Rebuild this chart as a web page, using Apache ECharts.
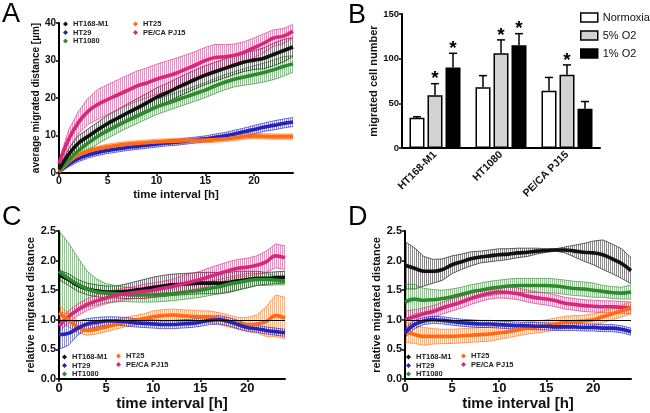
<!DOCTYPE html>
<html>
<head>
<meta charset="utf-8">
<script src="https://cdn.jsdelivr.net/npm/echarts@6/dist/echarts.min.js"></script>
<style>
  html, body { margin: 0; padding: 0; background: #fff; }
  #chart { width: 650px; height: 413px; }
</style>
</head>
<body>
<div id="chart"></div>
<script>
// time points [h]
const hours = [0,1,2,3,4,5,6,7,8,9,10,11,12,13,14,15,16,17,18,19,20,21,22,23,24];
const xTicks = [0, 5, 10, 15, 20];

// panel A: average migrated distance [µm]
const aHt168 = [1,5,8,9.8,11.6,13.2,14.6,16,17.3,18.7,20.2,21.3,22.6,23.8,25,26.1,27,27.9,28.8,29.6,30.1,30.6,31.6,32.6,33.6];
const aHt168Err = [0.5,1.5,2,2,2,2.2,2.3,2.4,2.5,2.5,2.5,2.5,2.5,2.5,2.5,2.5,2.5,2.5,2.5,2.5,2.5,2.8,3,3,2.5];
const aHt29 = [0.3,2.3,3.8,4.8,5.5,6,6.4,6.8,7.1,7.4,7.7,8,8.2,8.5,8.8,9.1,9.5,9.9,10.4,11,11.6,12.2,12.7,13.2,13.6];
const aHt29Err = [0.3,0.6,0.8,0.8,0.8,0.8,0.8,0.8,0.8,0.8,0.8,0.8,0.8,0.8,0.8,0.8,0.9,0.9,1,1,1.1,1.1,1.2,1.2,1.2];
const aHt1080 = [0.8,3.5,6,8,9.8,11.3,12.7,14,15.2,16.4,17.6,18.5,19.4,20.3,21.2,22.1,23.2,24.2,25,25.6,26.2,26.8,27.5,28.4,29.1];
const aHt1080Err = [0.5,1,1.5,1.8,2,2,2,2,2,2,2,2,2,2,2,2,2,2,2,2.2,2.4,2.5,2.6,2.6,2.2];
const aHt25 = [0.3,3,4.8,5.8,6.5,7,7.4,7.7,7.9,8.1,8.3,8.4,8.5,8.6,8.7,8.8,8.9,9.1,9.4,9.7,9.9,9.8,9.7,9.7,9.7];
const aHt25Err = [0.3,0.6,0.7,0.7,0.7,0.7,0.7,0.7,0.7,0.7,0.7,0.7,0.7,0.7,0.7,0.7,0.7,0.7,0.7,0.7,0.7,0.7,0.7,0.7,0.7];
const aPj15 = [2.5,9,13.5,16.5,18.3,19.6,20.8,22,23.2,24,25,25.8,26.6,27.7,28.8,30,30.8,31,31.4,32.2,33.4,34.6,36,36.5,37.8];
const aPj15Err = [1,2.5,3,3.5,4,4,4,4,4,4,4,4,4,3.8,3.6,3.5,3.5,3.2,3,2.8,2.6,2.5,2.2,2,1.8];

// panel B: migrated cell number
const bCats = ['HT168-M1', 'HT1080', 'PE/CA PJ15'];
const bNormoxia = [34, 68, 64];
const bNormoxiaErr = [1, 13, 15];
const bO2five = [59, 106, 82];
const bO2fiveErr = [13, 15, 11];
const bO2one = [90, 115, 44];
const bO2oneErr = [16, 13, 8];
const bSigNormoxia = [0, 0, 0];
const bSigFive = [1, 1, 1];
const bSigOne = [1, 1, 0];

// panel C: relative migrated distance
const cHt168 = [1.76,1.68,1.58,1.52,1.49,1.47,1.47,1.48,1.5,1.52,1.55,1.57,1.59,1.6,1.61,1.62,1.62,1.62,1.63,1.66,1.68,1.7,1.7,1.71,1.72];
const cHt168Err = [0.08,0.1,0.1,0.1,0.1,0.1,0.1,0.12,0.14,0.16,0.17,0.18,0.18,0.18,0.18,0.18,0.18,0.18,0.17,0.16,0.14,0.12,0.1,0.1,0.1];
const cHt29 = [0.75,0.77,0.86,0.93,0.96,0.98,0.98,0.97,0.95,0.94,0.93,0.92,0.92,0.93,0.94,0.96,0.99,1,0.97,0.92,0.87,0.85,0.82,0.8,0.78];
const cHt29Err = [0.25,0.2,0.12,0.09,0.08,0.07,0.07,0.07,0.07,0.07,0.07,0.07,0.07,0.07,0.07,0.07,0.07,0.07,0.07,0.07,0.06,0.06,0.06,0.06,0.06];
const cHt1080 = [1.82,1.7,1.6,1.52,1.47,1.45,1.44,1.43,1.42,1.42,1.42,1.43,1.44,1.46,1.48,1.5,1.53,1.56,1.6,1.63,1.66,1.68,1.68,1.67,1.65];
const cHt1080Err = [0.68,0.6,0.45,0.3,0.22,0.16,0.14,0.12,0.12,0.12,0.12,0.12,0.12,0.12,0.12,0.12,0.12,0.12,0.12,0.12,0.12,0.1,0.1,0.08,0.06];
const cHt25 = [1.12,1,0.88,0.82,0.84,0.88,0.92,0.96,0.99,1.02,1.05,1.07,1.08,1.07,1.06,1.05,1.05,1.02,0.98,0.94,0.92,0.93,0.97,1.07,1.03];
const cHt25Err = [0.12,0.12,0.1,0.08,0.08,0.08,0.08,0.08,0.08,0.08,0.1,0.1,0.1,0.1,0.1,0.1,0.1,0.1,0.1,0.1,0.12,0.15,0.25,0.35,0.35];
const cPj15 = [0.9,1.05,1.17,1.26,1.32,1.37,1.41,1.44,1.46,1.48,1.5,1.53,1.56,1.6,1.64,1.68,1.73,1.78,1.83,1.87,1.89,1.92,1.98,2.08,2.05];
const cPj15Err = [0.1,0.1,0.1,0.1,0.1,0.1,0.1,0.1,0.1,0.12,0.12,0.12,0.12,0.14,0.14,0.14,0.15,0.15,0.15,0.15,0.15,0.16,0.18,0.2,0.2];

// panel D: relative migrated distance
const dHt168 = [1.92,1.87,1.82,1.82,1.85,1.93,1.98,2.03,2.06,2.08,2.1,2.11,2.13,2.14,2.16,2.17,2.18,2.18,2.16,2.14,2.13,2.1,2.03,1.95,1.83];
const dHt168Err = [0.4,0.35,0.25,0.2,0.18,0.15,0.13,0.12,0.1,0.1,0.1,0.09,0.08,0.07,0.05,0.03,0.02,0.05,0.1,0.15,0.2,0.25,0.25,0.25,0.22];
const dHt29 = [0.78,0.92,0.98,1,0.99,0.97,0.95,0.94,0.93,0.93,0.92,0.91,0.9,0.9,0.89,0.89,0.88,0.88,0.88,0.87,0.87,0.86,0.86,0.84,0.8];
const dHt29Err = [0.08,0.07,0.06,0.06,0.06,0.06,0.06,0.06,0.06,0.06,0.06,0.06,0.06,0.06,0.06,0.06,0.06,0.06,0.06,0.06,0.06,0.06,0.06,0.06,0.06];
const dHt1080 = [1.3,1.35,1.33,1.34,1.36,1.39,1.43,1.47,1.5,1.53,1.55,1.57,1.58,1.58,1.58,1.58,1.57,1.55,1.53,1.52,1.5,1.48,1.46,1.45,1.47];
const dHt1080Err = [0.3,0.25,0.2,0.17,0.14,0.13,0.12,0.12,0.12,0.12,0.12,0.12,0.12,0.12,0.12,0.12,0.12,0.12,0.12,0.12,0.12,0.1,0.1,0.1,0.12];
const dHt25 = [0.8,0.75,0.72,0.72,0.72,0.72,0.73,0.74,0.75,0.76,0.78,0.8,0.83,0.86,0.88,0.9,0.93,0.96,0.97,0.98,1,1.05,1.1,1.15,1.2];
const dHt25Err = [0.18,0.15,0.15,0.13,0.12,0.12,0.12,0.12,0.12,0.12,0.11,0.1,0.1,0.1,0.1,0.1,0.1,0.1,0.1,0.1,0.1,0.1,0.1,0.1,0.1];
const dPj15 = [1,1.05,1.1,1.14,1.2,1.25,1.3,1.36,1.41,1.45,1.47,1.46,1.44,1.4,1.37,1.35,1.32,1.28,1.26,1.24,1.23,1.22,1.22,1.21,1.2];
const dPj15Err = [0.15,0.12,0.1,0.1,0.1,0.1,0.1,0.1,0.1,0.1,0.1,0.1,0.1,0.1,0.1,0.1,0.1,0.1,0.1,0.1,0.1,0.1,0.1,0.1,0.1];

const COLORS = {
  'HT168-M1': '#111111',
  'HT29': '#2424b8',
  'HT1080': '#2e8a2e',
  'HT25': '#ff6a14',
  'PE/CA PJ15': '#d42a7c'
};
const FONT = 'Liberation Sans, Arial, sans-serif';

// vertical hatching, looks like the dense error bars
function hatch(color) {
  const c = document.createElement('canvas');
  c.width = 2; c.height = 2;
  const ctx = c.getContext('2d');
  ctx.globalAlpha = 0.5;
  ctx.fillStyle = color;
  ctx.fillRect(0, 0, 1, 2);
  return { image: c, repeat: 'repeat' };
}

function band(name, mean, err, axis) {
  const color = COLORS[name];
  const fill = hatch(color);
  const data = hours.map((t, i) => [t, mean[i] - err[i], mean[i] + err[i]]);
  return {
    type: 'custom',
    name: name + ' sd',
    xAxisIndex: axis, yAxisIndex: axis,
    z: 2,
    silent: true,
    encode: { x: 0, y: [1, 2] },
    data: data,
    renderItem: function (params, api) {
      const i = params.dataIndex;
      if (i >= data.length - 1) return null;
      const a = data[i], b = data[i + 1];
      const lo0 = api.coord([a[0], a[1]]), hi0 = api.coord([a[0], a[2]]);
      const lo1 = api.coord([b[0], b[1]]), hi1 = api.coord([b[0], b[2]]);
      return {
        type: 'group',
        children: [
          { type: 'polygon', shape: { points: [hi0, hi1, lo1, lo0] }, style: { fill: fill, stroke: null } },
          { type: 'line', shape: { x1: hi0[0], y1: hi0[1], x2: hi1[0], y2: hi1[1] }, style: { stroke: color, lineWidth: 0.8, opacity: 0.8 } },
          { type: 'line', shape: { x1: lo0[0], y1: lo0[1], x2: lo1[0], y2: lo1[1] }, style: { stroke: color, lineWidth: 0.8, opacity: 0.8 } }
        ]
      };
    }
  };
}

function line(name, mean, axis, extra) {
  return Object.assign({
    type: 'line',
    name: name,
    xAxisIndex: axis, yAxisIndex: axis,
    z: 3,
    smooth: 0.4,
    showSymbol: false,
    color: COLORS[name],
    lineStyle: { width: 3.6, color: COLORS[name] },
    data: hours.map((t, i) => [t, mean[i]])
  }, extra || {});
}

function panel(axis, sets, withRef) {
  const out = [];
  sets.forEach(s => out.push(band(s[0], s[1], s[2], axis)));
  sets.forEach((s, k) => {
    const extra = (withRef && k === 0) ? {
      markLine: {
        silent: true, symbol: 'none', label: { show: false },
        lineStyle: { color: '#000', width: 1, type: 'solid' },
        data: [{ yAxis: 1 }]
      }
    } : null;
    out.push(line(s[0], s[1], axis, extra));
  });
  return out;
}

// error bars + asterisks for panel B
function barErr(name, vals, errs, sig, k) {
  return {
    type: 'custom',
    name: name + ' err',
    xAxisIndex: 1, yAxisIndex: 1,
    z: 1,
    silent: true,
    data: vals.map((v, i) => [i, v, v + errs[i]]),
    renderItem: function (params, api) {
      const i = params.dataIndex;
      const off = (k - 1) * 18;
      const p0 = api.coord([api.value(0), api.value(1)]);
      const p1 = api.coord([api.value(0), api.value(2)]);
      const x = p0[0] + off;
      const kids = [
        { type: 'line', shape: { x1: x, y1: p0[1], x2: x, y2: p1[1] }, style: { stroke: '#000', lineWidth: 1.5 } },
        { type: 'line', shape: { x1: x - 4, y1: p1[1], x2: x + 4, y2: p1[1] }, style: { stroke: '#000', lineWidth: 1.5 } }
      ];
      if (sig[i]) {
        kids.push({ type: 'text', x: x, y: p1[1] + 5,
          style: { text: '*', fill: '#000', font: 'bold 19px ' + FONT, align: 'center', verticalAlign: 'bottom' } });
      }
      return { type: 'group', children: kids };
    }
  };
}

function timeAxis(grid, nameSize, labelSize, gap) {
  return {
    type: 'value', gridIndex: grid, min: 0, max: 24,
    name: 'time interval [h]', nameLocation: 'middle', nameGap: gap,
    nameTextStyle: { fontSize: nameSize, fontWeight: 'bold', color: '#111', fontFamily: FONT },
    axisLine: { lineStyle: { color: '#000', width: 2 } },
    axisTick: { customValues: xTicks, length: 3, lineStyle: { color: '#000', width: 1.5 } },
    axisLabel: { customValues: xTicks, fontSize: labelSize, fontWeight: 'bold', color: '#111', margin: 3, fontFamily: FONT },
    splitLine: { show: false }
  };
}

function valAxis(grid, max, interval, name, nameSize, labelSize, gap, digits) {
  return {
    type: 'value', gridIndex: grid, min: 0, max: max, interval: interval,
    name: name, nameLocation: 'middle', nameGap: gap,
    nameTextStyle: { fontSize: nameSize, fontWeight: 'bold', color: '#111', fontFamily: FONT },
    axisLine: { show: true, lineStyle: { color: '#000', width: 2 } },
    axisTick: { show: true, length: 3, lineStyle: { color: '#000', width: 1.5 } },
    axisLabel: {
      fontSize: labelSize, fontWeight: 'bold', color: '#111', margin: 3, fontFamily: FONT,
      formatter: v => digits ? v.toFixed(digits) : String(v)
    },
    splitLine: { show: false }
  };
}

function smallLegend(names, left, top) {
  return {
    data: names, left: left, top: top, orient: 'vertical',
    padding: 0, itemGap: 0.5, itemWidth: 5, itemHeight: 5, icon: 'diamond',
    selectedMode: false,
    textStyle: { fontSize: 7.5, fontWeight: 'bold', color: '#222', lineHeight: 8, fontFamily: FONT }
  };
}

const letter = (t, left, top) => ({
  text: t, left: left, top: top, padding: 0,
  textStyle: { fontSize: 27, fontWeight: 'normal', color: '#000', fontFamily: FONT }
});

const chart = echarts.init(document.getElementById('chart'));
chart.setOption({
  animation: false,
  textStyle: { fontFamily: FONT },
  title: [letter('A', 2, 1), letter('B', 348, 2), letter('C', 2, 204), letter('D', 348, 204)],
  grid: [
    { left: 59, top: 23, width: 234, height: 150 },
    { left: 402, top: 14, width: 198, height: 134 },
    { left: 59, top: 231, width: 226, height: 148 },
    { left: 405, top: 231, width: 226, height: 148 }
  ],
  legend: [
    smallLegend(['HT168-M1', 'HT29', 'HT1080'], 63, 20),
    smallLegend(['HT25', 'PE/CA PJ15'], 133, 20),
    {
      data: ['Normoxia', '5% O2', '1% O2'], left: 580, top: 12, orient: 'vertical',
      padding: 0, itemGap: 7, itemWidth: 17, itemHeight: 9, icon: 'rect', selectedMode: false,
      itemStyle: { borderColor: '#000', borderWidth: 1.5 },
      textStyle: { fontSize: 11, color: '#111', fontFamily: FONT }
    },
    smallLegend(['HT168-M1', 'HT29', 'HT1080'], 62, 353),
    smallLegend(['HT25', 'PE/CA PJ15'], 116, 352),
    smallLegend(['HT168-M1', 'HT29', 'HT1080'], 406, 353),
    smallLegend(['HT25', 'PE/CA PJ15'], 461, 352)
  ],
  xAxis: [
    timeAxis(0, 11.5, 10.5, 16),
    {
      type: 'category', gridIndex: 1, data: bCats,
      axisLine: { lineStyle: { color: '#000', width: 2 } },
      axisTick: { alignWithLabel: true, length: 3, lineStyle: { color: '#000', width: 1.5 } },
      axisLabel: { rotate: 45, fontSize: 10.5, fontWeight: 'bold', color: '#111', margin: 5, fontFamily: FONT }
    },
    timeAxis(2, 15, 13, 10),
    timeAxis(3, 15, 13, 10)
  ],
  yAxis: [
    valAxis(0, 40, 10, 'average migrated distance [µm]', 10, 10, 12, 0),
    valAxis(1, 150, 50, 'migrated cell number', 11, 9.5, 22, 0),
    valAxis(2, 2.5, 0.5, 'relative migrated distance', 11, 11, 17, 1),
    valAxis(3, 2.5, 0.5, 'relative migrated distance', 11, 11, 19, 1)
  ],
  series: [].concat(
    panel(0, [
      ['HT29', aHt29, aHt29Err], ['HT25', aHt25, aHt25Err],
      ['HT1080', aHt1080, aHt1080Err], ['HT168-M1', aHt168, aHt168Err], ['PE/CA PJ15', aPj15, aPj15Err]
    ], false),
    [
      { type: 'bar', name: 'Normoxia', xAxisIndex: 1, yAxisIndex: 1, data: bNormoxia, barWidth: 15, barGap: '20%', z: 2,
        itemStyle: { color: '#ffffff', borderColor: '#000', borderWidth: 1.5 } },
      { type: 'bar', name: '5% O2', xAxisIndex: 1, yAxisIndex: 1, data: bO2five, barWidth: 15, barGap: '20%', z: 2,
        itemStyle: { color: '#d2d2d2', borderColor: '#000', borderWidth: 1.5 } },
      { type: 'bar', name: '1% O2', xAxisIndex: 1, yAxisIndex: 1, data: bO2one, barWidth: 15, barGap: '20%', z: 2,
        itemStyle: { color: '#000000', borderColor: '#000', borderWidth: 1.5 } },
      barErr('Normoxia', bNormoxia, bNormoxiaErr, bSigNormoxia, 0),
      barErr('5% O2', bO2five, bO2fiveErr, bSigFive, 1),
      barErr('1% O2', bO2one, bO2oneErr, bSigOne, 2)
    ],
    panel(2, [
      ['HT168-M1', cHt168, cHt168Err], ['HT1080', cHt1080, cHt1080Err], ['PE/CA PJ15', cPj15, cPj15Err],
      ['HT25', cHt25, cHt25Err], ['HT29', cHt29, cHt29Err]
    ], true),
    panel(3, [
      ['HT168-M1', dHt168, dHt168Err], ['HT1080', dHt1080, dHt1080Err], ['PE/CA PJ15', dPj15, dPj15Err],
      ['HT25', dHt25, dHt25Err], ['HT29', dHt29, dHt29Err]
    ], true)
  )
});
</script>
</body>
</html>
